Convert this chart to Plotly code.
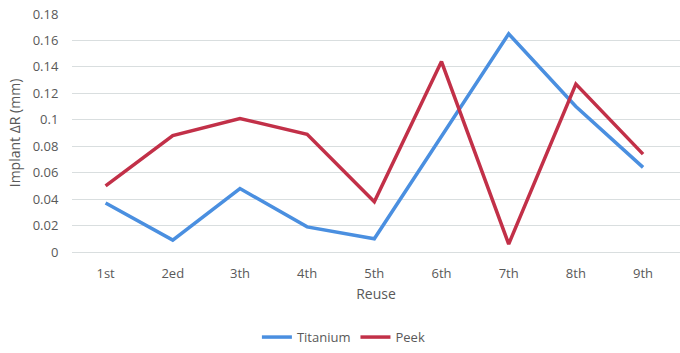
import plotly.graph_objects as go

categories = ["1st", "2ed", "3th", "4th", "5th", "6th", "7th", "8th", "9th"]
titanium = [0.037, 0.009, 0.048, 0.019, 0.010, 0.087, 0.165, 0.110, 0.064]
peek = [0.050, 0.088, 0.101, 0.089, 0.038, 0.144, 0.006, 0.127, 0.074]
y_ticks = [0, 0.02, 0.04, 0.06, 0.08, 0.1, 0.12, 0.14, 0.16, 0.18]
y_tick_text = ["0", "0.02", "0.04", "0.06", "0.08", "0.1", "0.12", "0.14", "0.16", "0.18"]

font_family = "Open Sans, Lato, sans-serif"
text_color = "#595959"

fig = go.Figure()
fig.add_trace(go.Scatter(x=categories, y=titanium, mode="lines", name="Titanium",
                         line=dict(color="#4a8fe0", width=3.5)))
fig.add_trace(go.Scatter(x=categories, y=peek, mode="lines", name="Peek",
                         line=dict(color="#c23048", width=3.5)))

fig.update_layout(
    width=680, height=353,
    margin=dict(l=72, r=0, t=14, b=101),
    plot_bgcolor="white", paper_bgcolor="white",
    font=dict(family=font_family, color=text_color, size=13),
    showlegend=True,
    legend=dict(orientation="h", xref="container", x=0.505, xanchor="center",
                yref="container", y=0.045, yanchor="middle",
                font=dict(size=13, color=text_color), itemwidth=30),
    xaxis=dict(title=dict(text="Reuse", font=dict(size=14), standoff=8),
               showgrid=False, showline=False,
               ticks="outside", ticklen=9, tickcolor="rgba(0,0,0,0)",
               tickfont=dict(size=13), range=[-0.5, 8.55]),
    yaxis=dict(title=dict(text="Implant ΔR (mm)", font=dict(size=14), standoff=8),
               range=[0, 0.18], tickvals=y_ticks, ticktext=y_tick_text,
               showgrid=True, gridcolor="#d9dedf", gridwidth=1.2,
               zeroline=True, zerolinecolor="#d9dedf", zerolinewidth=1.2,
               tickfont=dict(size=13),
               ticks="outside", ticklen=10, tickcolor="rgba(0,0,0,0)"),
)

fig.write_html("out.html")
